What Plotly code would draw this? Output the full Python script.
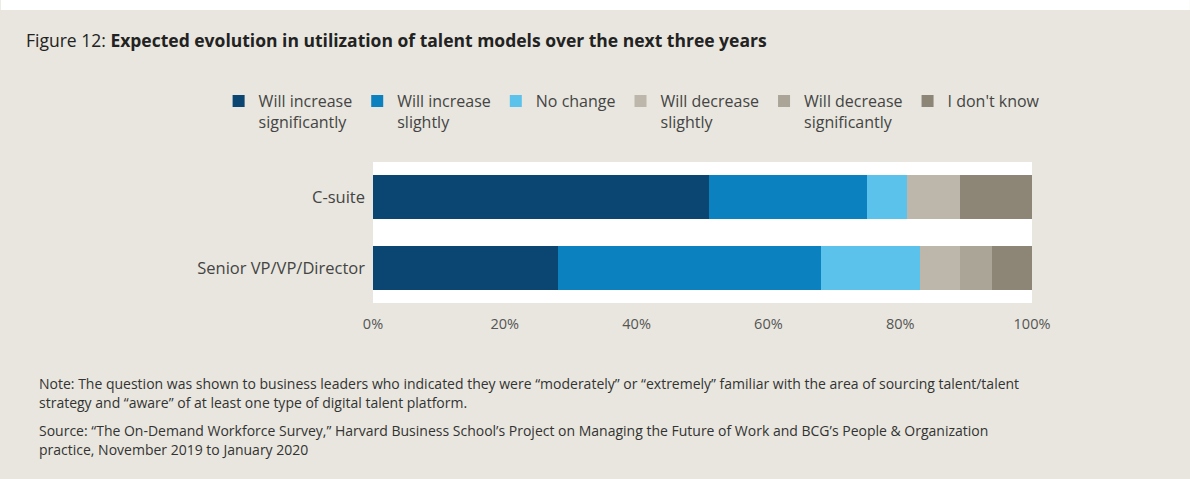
import plotly.graph_objects as go

# ---- data ----
categories = ["C-suite", "Senior VP/VP/Director"]
series_names = [
    "Will increase<br>significantly",
    "Will increase<br>slightly",
    "No change",
    "Will decrease<br>slightly",
    "Will decrease<br>significantly",
    "I don't know",
]
will_increase_significantly = [51, 28]
will_increase_slightly = [24, 40]
no_change = [6, 15]
will_decrease_slightly = [8, 6]
will_decrease_significantly = [0, 5]
i_dont_know = [11, 6]
series_values = [
    will_increase_significantly,
    will_increase_slightly,
    no_change,
    will_decrease_slightly,
    will_decrease_significantly,
    i_dont_know,
]
tick_values = [0, 20, 40, 60, 80, 100]
tick_labels = ["0%", "20%", "40%", "60%", "80%", "100%"]

colors = ["#0b4572", "#0b82bf", "#5bc2ec", "#bdb7ab", "#aba598", "#8d8676"]

title_text = ("Figure 12: <b>Expected evolution in utilization of talent models "
              "over the next three years</b>")
note_lines = [
    "Note: The question was shown to business leaders who indicated they were \u201cmoderately\u201d or \u201cextremely\u201d familiar with the area of sourcing talent/talent",
    "strategy and \u201caware\u201d of at least one type of digital talent platform.",
    "Source: \u201cThe On-Demand Workforce Survey,\u201d Harvard Business School\u2019s Project on Managing the Future of Work and BCG\u2019s People & Organization",
    "practice, November 2019 to January 2020",
]

FONT = "Open Sans"
BG = "#e8e6de"

W, H = 1190, 479
L, R, T, B = 372.5, 158, 162, 176
plot_h = H - T - B
plot_w = W - L - R

fig = go.Figure()
for name, vals, col in zip(series_names, series_values, colors):
    fig.add_trace(go.Bar(
        y=categories, x=vals, name=name, orientation="h",
        marker=dict(color=col, line=dict(width=0)),
        hoverinfo="x+name",
    ))

def px_to_paper_x(px):
    return (px - L) / plot_w

def px_to_paper_y(py):
    return (H - B - py) / plot_h

annotations = []
note_y = [383, 402, 430, 449]
for line, yy in zip(note_lines, note_y):
    annotations.append(dict(
        text=line, xref="paper", yref="paper",
        x=px_to_paper_x(36), y=px_to_paper_y(yy),
        xanchor="left", yanchor="middle", showarrow=False,
        font=dict(family=FONT, size=14, color="#333333"),
    ))

fig.update_layout(
    width=W, height=H,
    margin=dict(l=L, r=R, t=T, b=B, pad=0),
    paper_bgcolor=BG, plot_bgcolor="white",
    barmode="stack", bargap=0.38,
    font=dict(family=FONT, size=14, color="#444444"),
    title=dict(text=title_text, x=26 / W, xanchor="left", xref="container",
               y=1 - 41 / H, yanchor="middle", yref="container",
               font=dict(family=FONT, size=17.5, color="#222222")),
    legend=dict(orientation="h", x=px_to_paper_x(218), y=px_to_paper_y(84),
                xanchor="left", yanchor="top", valign="top",
                traceorder="normal", bgcolor="rgba(0,0,0,0)",
                font=dict(family=FONT, size=16, color="#444444"),
                itemwidth=30, tracegroupgap=0),
    xaxis=dict(range=[0, 100], tickvals=tick_values, ticktext=tick_labels,
               showgrid=False, zeroline=False, showline=False, ticks="",
               ticklabelstandoff=10, fixedrange=True,
               tickfont=dict(family=FONT, size=14.5, color="#555555")),
    yaxis=dict(autorange="reversed", showgrid=False, zeroline=False,
               showline=False, ticks="", ticklabelstandoff=7, fixedrange=True,
               tickfont=dict(family=FONT, size=16.5, color="#444444")),
    annotations=annotations,
    shapes=[dict(type="rect", xref="paper", yref="paper",
                 x0=px_to_paper_x(0), x1=px_to_paper_x(W),
                 y0=px_to_paper_y(10), y1=px_to_paper_y(0),
                 fillcolor="white", line=dict(width=0), layer="below")],
    showlegend=True,
)

fig.write_html("out.html", config={"displayModeBar": False},
               post_script="document.body.style.margin='0';document.body.style.overflow='hidden';")
